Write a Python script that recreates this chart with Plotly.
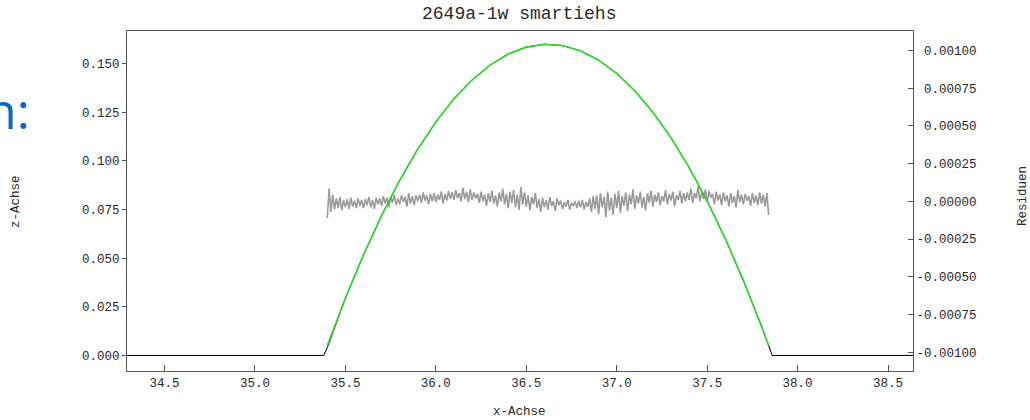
import plotly.graph_objects as go

# ---------------- data ----------------
# measured profile (black)
profile_x = [34.29, 35.38, 35.40, 35.5, 35.6, 35.7, 35.8, 35.9, 36.0, 36.1, 36.2, 36.3,
             36.4, 36.5, 36.6, 36.7, 36.8, 36.9, 37.0, 37.1, 37.2, 37.3, 37.4, 37.5,
             37.6, 37.7, 37.8, 37.84, 37.86, 38.64]
profile_z = [0.0, 0.0, 0.0040, 0.0295, 0.0517, 0.0719, 0.0900, 0.1061, 0.1200, 0.1319,
             0.1416, 0.1493, 0.1550, 0.1585, 0.1600, 0.1593, 0.1566, 0.1518, 0.1450,
             0.1360, 0.1250, 0.1119, 0.0967, 0.0794, 0.0601, 0.0386, 0.0151, 0.0045,
             0.0, 0.0]

# fitted curve (green)
fit_x = [35.40, 35.5, 35.6, 35.7, 35.8, 35.9, 36.0, 36.1, 36.2, 36.3, 36.4, 36.5, 36.6,
         36.7, 36.8, 36.9, 37.0, 37.1, 37.2, 37.3, 37.4, 37.5, 37.6, 37.7, 37.8, 37.84]
fit_z = [0.0051, 0.0295, 0.0517, 0.0719, 0.0900, 0.1061, 0.1200, 0.1319, 0.1416, 0.1493,
         0.1550, 0.1585, 0.1600, 0.1593, 0.1566, 0.1518, 0.1450, 0.1360, 0.1250, 0.1119,
         0.0967, 0.0794, 0.0601, 0.0386, 0.0151, 0.0051]

# residuals (grey), sampled every 0.01 from 35.40, values in units of 1e-6
residual_x_start = 35.40
residual_x_step = 0.01
residual_micro = [
    -110, 85, -70, 45, -55, 20, -45, 30, -60, 10,
    -40, 15, -50, 25, -35, 5, -45, 20, -30, 10,
    -45, 15, -25, 30, -40, 10, -50, 25, -20, 20,
    -30, 35, -15, 25, -40, 30, -10, 45, -25, 20,
    -20, 40, -5, 30, -35, 55, -15, 35, -25, 40,
    0, 45, -10, 60, 5, 40, -20, 50, 0, 55,
    -5, 45, 10, 65, -15, 50, 5, 70, 15, 60,
    10, 75, 20, 55, 0, 90, 15, 65, -5, 80,
    10, 60, 20, 50, -10, 65, 0, 45, -30, 55,
    -5, 70, -15, 40, -35, 60, 0, 85, -20, 50,
    -45, 65, -10, 75, -40, 45, -55, 95, -20, 60,
    -35, 40, -60, 30, -20, 55, -45, 15, -70, 25,
    -40, 10, -55, 30, -30, 0, -65, 20, -25, 5,
    -50, -5, -35, 10, -55, -10, -30, 0, -45, 5,
    -40, 10, -55, -5, -35, 20, -70, 35, -50, 40,
    -85, 55, -40, 30, -105, 65, -60, 25, -90, 50,
    -45, 70, -75, 35, -30, 60, -65, 45, -20, 80,
    -50, 40, -15, 65, -40, 30, -60, 55, -10, 70,
    -35, 45, -5, 60, -25, 35, 0, 75, -20, 50,
    5, 65, -30, 40, 10, 70, -15, 55, 0, 60,
    10, 85, -10, 55, 20, 100, 0, 60, 15, 80,
    -5, 70, 25, 50, -20, 65, 5, 45, -25, 60,
    0, 40, -35, 55, -10, 35, -40, 75, -5, 45,
    -20, 50, 5, 35, -30, 55, -10, 40, -25, 60,
    -15, 45, -35, 55, -90,
]

x_ticks = [34.5, 35.0, 35.5, 36.0, 36.5, 37.0, 37.5, 38.0, 38.5]
z_ticks = [0.0, 0.025, 0.05, 0.075, 0.1, 0.125, 0.15]
res_ticks = [-0.001, -0.00075, -0.0005, -0.00025, 0.0, 0.00025, 0.0005, 0.00075, 0.001]

title_text = "2649a-1w smartiehs"
x_title = "x-Achse"
z_title = "z-Achse"
res_title = "Residuen"

# ---------------- figure ----------------
residual_x = [round(residual_x_start + residual_x_step * i, 4) for i in range(len(residual_micro))]
residual_y = [v * 1e-6 for v in residual_micro]

W, H = 1030, 420
L, R, T, B = 127, 117, 31, 49
PW, PH = W - L - R, H - T - B

def px(xp):
    return (xp - L) / PW

def py(yp):
    return (H - B - yp) / PH

MONO = "Liberation Mono, Courier New, monospace"
AX = "#555555"
TXT = "#2a2a2a"

fig = go.Figure()
fig.add_trace(go.Scatter(x=residual_x, y=residual_y, mode="lines",
                         line=dict(color="#9a9a9a", width=1.6), yaxis="y", hoverinfo="skip"))
fig.add_trace(go.Scatter(x=profile_x, y=profile_z, mode="lines",
                         line=dict(color="#000000", width=1.0), yaxis="y2"))
fig.add_trace(go.Scatter(x=fit_x, y=fit_z, mode="lines",
                         line=dict(color="#26dc26", width=1.6), yaxis="y2"))

res_text = [("\u00a0" if v >= 0 else "") + f"{v:.5f}" for v in res_ticks]

fig.update_layout(
    width=W, height=H,
    margin=dict(l=L, r=R, t=T, b=B, pad=0),
    paper_bgcolor="white", plot_bgcolor="white",
    showlegend=False,
    font=dict(family=MONO, size=12, color=TXT),
    xaxis=dict(range=[34.2925, 38.638], tickvals=x_ticks,
               ticktext=[f"{v:.1f}" for v in x_ticks],
               ticks="inside", ticklen=6, tickcolor=AX, tickwidth=1,
               showline=True, linecolor=AX, linewidth=1, mirror=True,
               showgrid=False, zeroline=False,
               tickfont=dict(family=MONO, size=12.5, color=TXT)),
    yaxis=dict(range=[-0.001125, 0.00113], side="right",
               tickvals=res_ticks, ticktext=res_text,
               ticks="inside", ticklen=5, tickcolor=AX,
               showline=True, linecolor=AX, linewidth=1,
               showgrid=False, zeroline=False,
               tickfont=dict(family=MONO, size=12.5, color=TXT)),
    yaxis2=dict(range=[-0.0080, 0.1668], side="left", overlaying="y",
                tickvals=z_ticks, ticktext=[f"{v:.3f}" for v in z_ticks],
                ticks="outside", ticklen=4, tickcolor=AX,
                showline=True, linecolor=AX, linewidth=1,
                showgrid=False, zeroline=False,
                tickfont=dict(family=MONO, size=12.5, color=TXT)),
)

ann = [
    dict(text=title_text, x=px(519), y=py(14), font=dict(family=MONO, size=18, color=TXT),
         xanchor="center", yanchor="middle"),
    dict(text=x_title, x=px(519), y=py(412), font=dict(family=MONO, size=12.5, color=TXT),
         xanchor="center", yanchor="middle"),
    dict(text=z_title, x=px(16), y=py(201), textangle=-90,
         font=dict(family=MONO, size=12.5, color=TXT), xanchor="center", yanchor="middle"),
    dict(text=res_title, x=px(1023), y=py(196), textangle=-90,
         font=dict(family=MONO, size=12.5, color=TXT), xanchor="center", yanchor="middle"),
    dict(text="n:", x=px(32), y=py(110), font=dict(family="Open Sans", size=50, color="#0868c8"),
         xanchor="right", yanchor="middle"),
]
for a in ann:
    a.update(xref="paper", yref="paper", showarrow=False)
fig.update_layout(annotations=ann)

fig.write_html("out.html", config={"displayModeBar": False},
               post_script="document.body.style.margin='0px';document.body.style.overflow='hidden';")
